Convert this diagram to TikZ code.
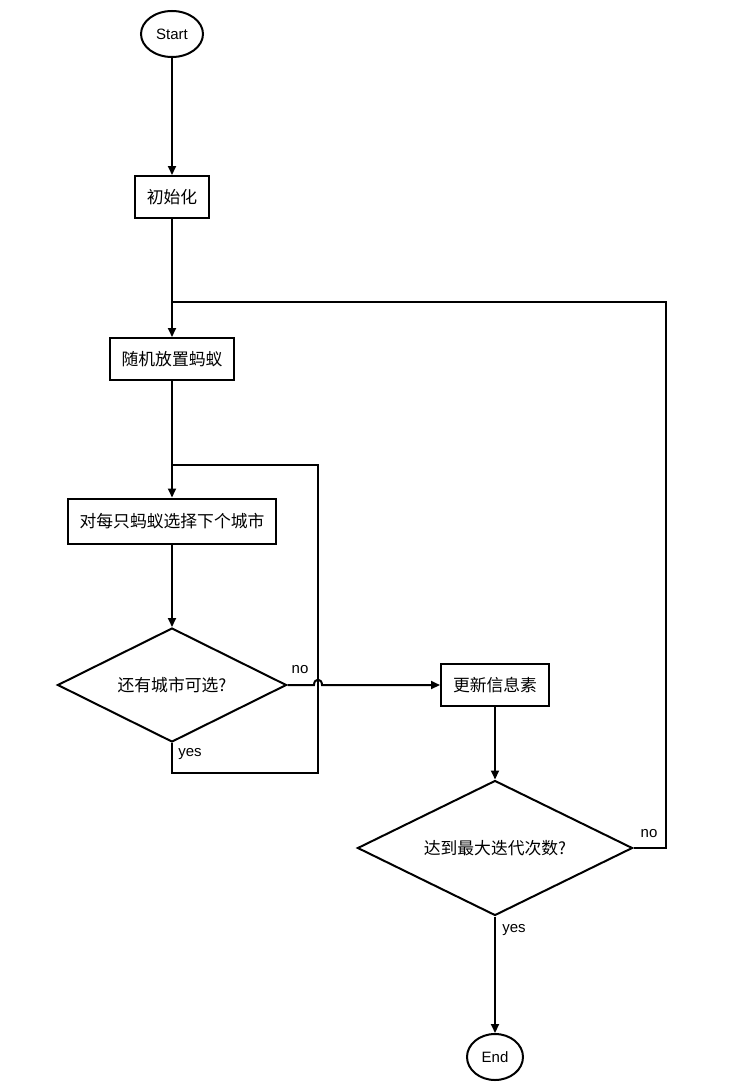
\documentclass[tikz,border=0pt]{standalone}
\usepackage{fontspec}
\setmainfont{Liberation Sans}
\newfontfamily\cjk{Noto Sans CJK SC}[Scale=1.12]
\usepackage{tikz}
\usetikzlibrary{shapes.geometric,arrows.meta}

\begin{document}
\begin{tikzpicture}[
    x=1pt, y=-1pt,
    font=\fontsize{15}{17}\selectfont,
    term/.style={ellipse, draw, line width=2pt, inner sep=0pt, minimum height=46pt},
    proc box/.style={rectangle, draw, line width=2pt, inner xsep=12pt, minimum height=42pt, font=\fontsize{15}{17}\selectfont\cjk},
    decision/.style={diamond, draw, line width=2pt, aspect=2, inner sep=1pt, font=\fontsize{15}{17}\selectfont\cjk},
    flow/.style={-{Triangle[length=9pt,width=8pt]}, line width=2pt},
    link/.style={line width=2pt},
]
\useasboundingbox (0,0) rectangle (754,1092);

% === Nodes ===
\node[term, minimum width=62pt] (start) at (172,34) {Start};
\node[proc box] (init) at (172,197) {初始化};
\node[proc box] (place) at (172,359) {随机放置蚂蚁};
\node[proc box, minimum height=45pt] (choose) at (172,521) {对每只蚂蚁选择下个城市};
\node[decision, minimum width=229pt, minimum height=114pt] (more) at (172,685) {还有城市可选?};
\node[proc box] (update) at (495,685) {更新信息素};
\node[decision, minimum width=275pt, minimum height=135pt] (maxit) at (495,848) {达到最大迭代次数?};
\node[term, minimum width=56pt] (end) at (495,1057) {End};

% === Junctions ===
\coordinate (outer join) at (172,302);
\coordinate (inner join) at (172,465);
\coordinate (outer corner) at (666,848);
\coordinate (inner low) at (172,773);
\coordinate (inner right) at (318,773);

% === Main flow ===
\draw[flow] (start) -- (init);
\draw[flow] (init) -- (place);
\draw[flow] (place) -- (choose);
\draw[flow] (choose) -- (more);
\draw[flow] (more.east) -- (314,685) .. controls (314,678) and (322,678) .. (322,685) -- (update.west);
\draw[flow] (update) -- (maxit);
\draw[flow] (maxit) -- (end);

% === Loops ===
\draw[link] (more.south) -- (inner low) -- (inner right) |- (inner join);
\draw[link] (maxit.east) -- (outer corner) |- (outer join);

% === Labels ===
\node (no1) at (300,670) {no};
\node (yes1) at (190,754) {yes};
\node (no2) at (649,834) {no};
\node (yes2) at (514,930) {yes};

\end{tikzpicture}
\end{document}
